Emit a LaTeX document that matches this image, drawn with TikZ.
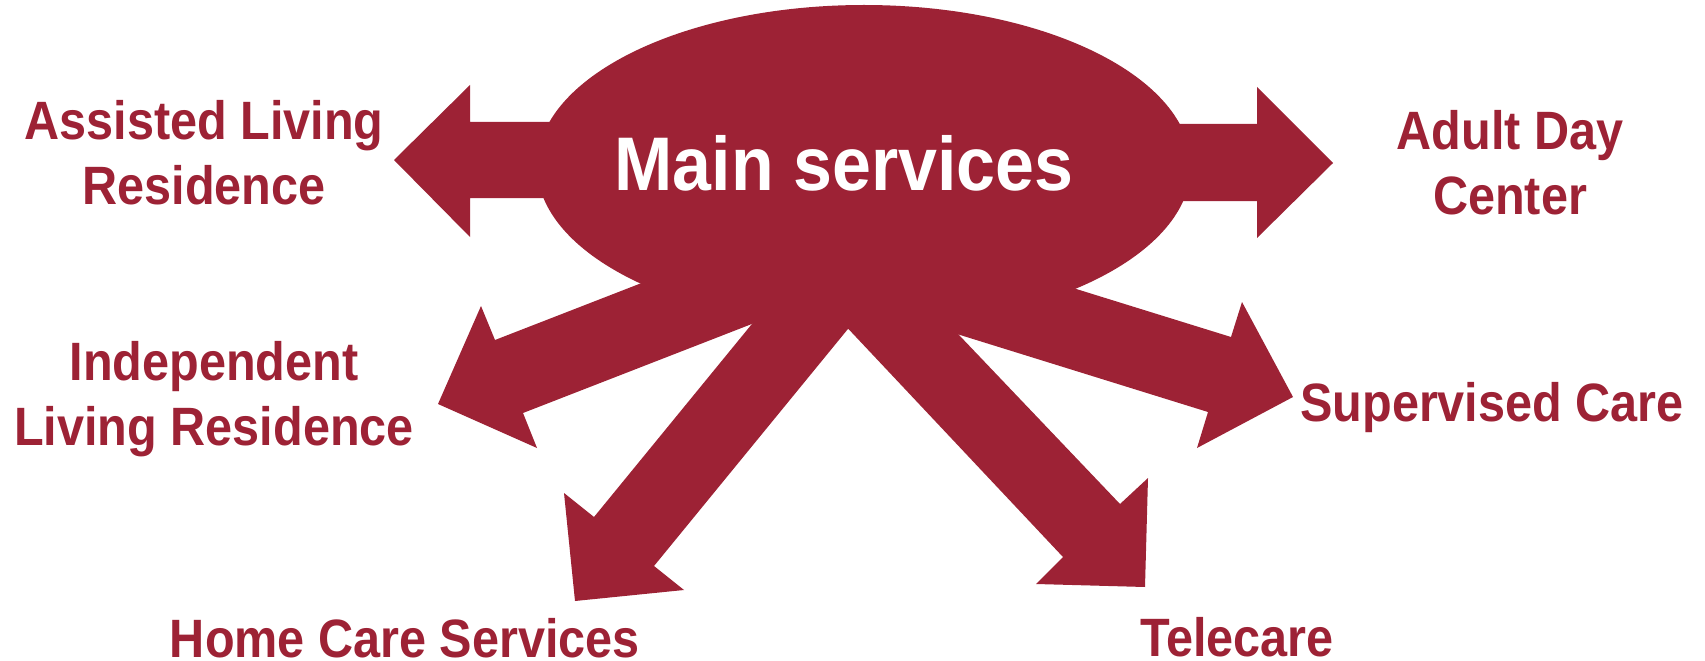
\documentclass[tikz,border=0pt]{standalone}
\usepackage{fontspec}
\newfontfamily\lblfont{Liberation Sans}[FakeStretch=0.9]
\newfontfamily\centrefont{Liberation Sans}[FakeStretch=0.92]
\definecolor{wine}{RGB}{157,34,53}
\begin{document}
\begin{tikzpicture}[x=1bp,y=-1bp,
  lbltext/.style={font=\lblfont\bfseries\fontsize{54bp}{65bp}\selectfont, text=wine, align=center, inner sep=0pt, anchor=north},
  maintext/.style={font=\centrefont\bfseries\fontsize{76bp}{80bp}\selectfont, text=white, inner sep=0pt, anchor=north},
  blockarrow/.style={fill=wine, draw=none}]
\path[use as bounding box] (0,0) rectangle (1705,661);
% central ellipse
\fill[wine] (864,166) ellipse [x radius=327bp, y radius=161bp];
% arrows
\path[blockarrow] (700,122) -- (470,122) -- (470,85) -- (394,160) -- (470,237) -- (470,198) -- (700,198) -- cycle;
\path[blockarrow] (1000,124) -- (1257,124) -- (1257,87) -- (1333,163) -- (1257,238) -- (1257,201) -- (1000,201) -- cycle;
\path[blockarrow] (760,237) -- (495,340) -- (481,306) -- (438,404) -- (537,448) -- (523,413) -- (852,285) -- cycle;
\path[blockarrow] (792,275) -- (594,517) -- (564,493) -- (575,601) -- (684,590) -- (654,566) -- (888,280) -- cycle;
\path[blockarrow] (808,286) -- (1063,557) -- (1036,584) -- (1145,587) -- (1148,478) -- (1120,504) -- (919,293) -- cycle;
\path[blockarrow] (1015,270) -- (1231,337) -- (1242,302) -- (1293,397) -- (1197,448) -- (1208,412) -- (899,316) -- cycle;
% texts
\node[maintext] (main) at (844,135) {Main services};
\node[lbltext] (alr) at (204,100) {Assisted Living\\Residence};
\node[lbltext] (adc) at (1510,110) {Adult Day\\Center};
\node[lbltext] (ilr) at (214,341) {Independent\\Living Residence};
\node[lbltext] (sup) at (1492,382) {Supervised Care};
\node[lbltext] (hcs) at (405,618) {Home Care Services};
\node[lbltext] (tel) at (1237,617) {Telecare};
\end{tikzpicture}
\end{document}
